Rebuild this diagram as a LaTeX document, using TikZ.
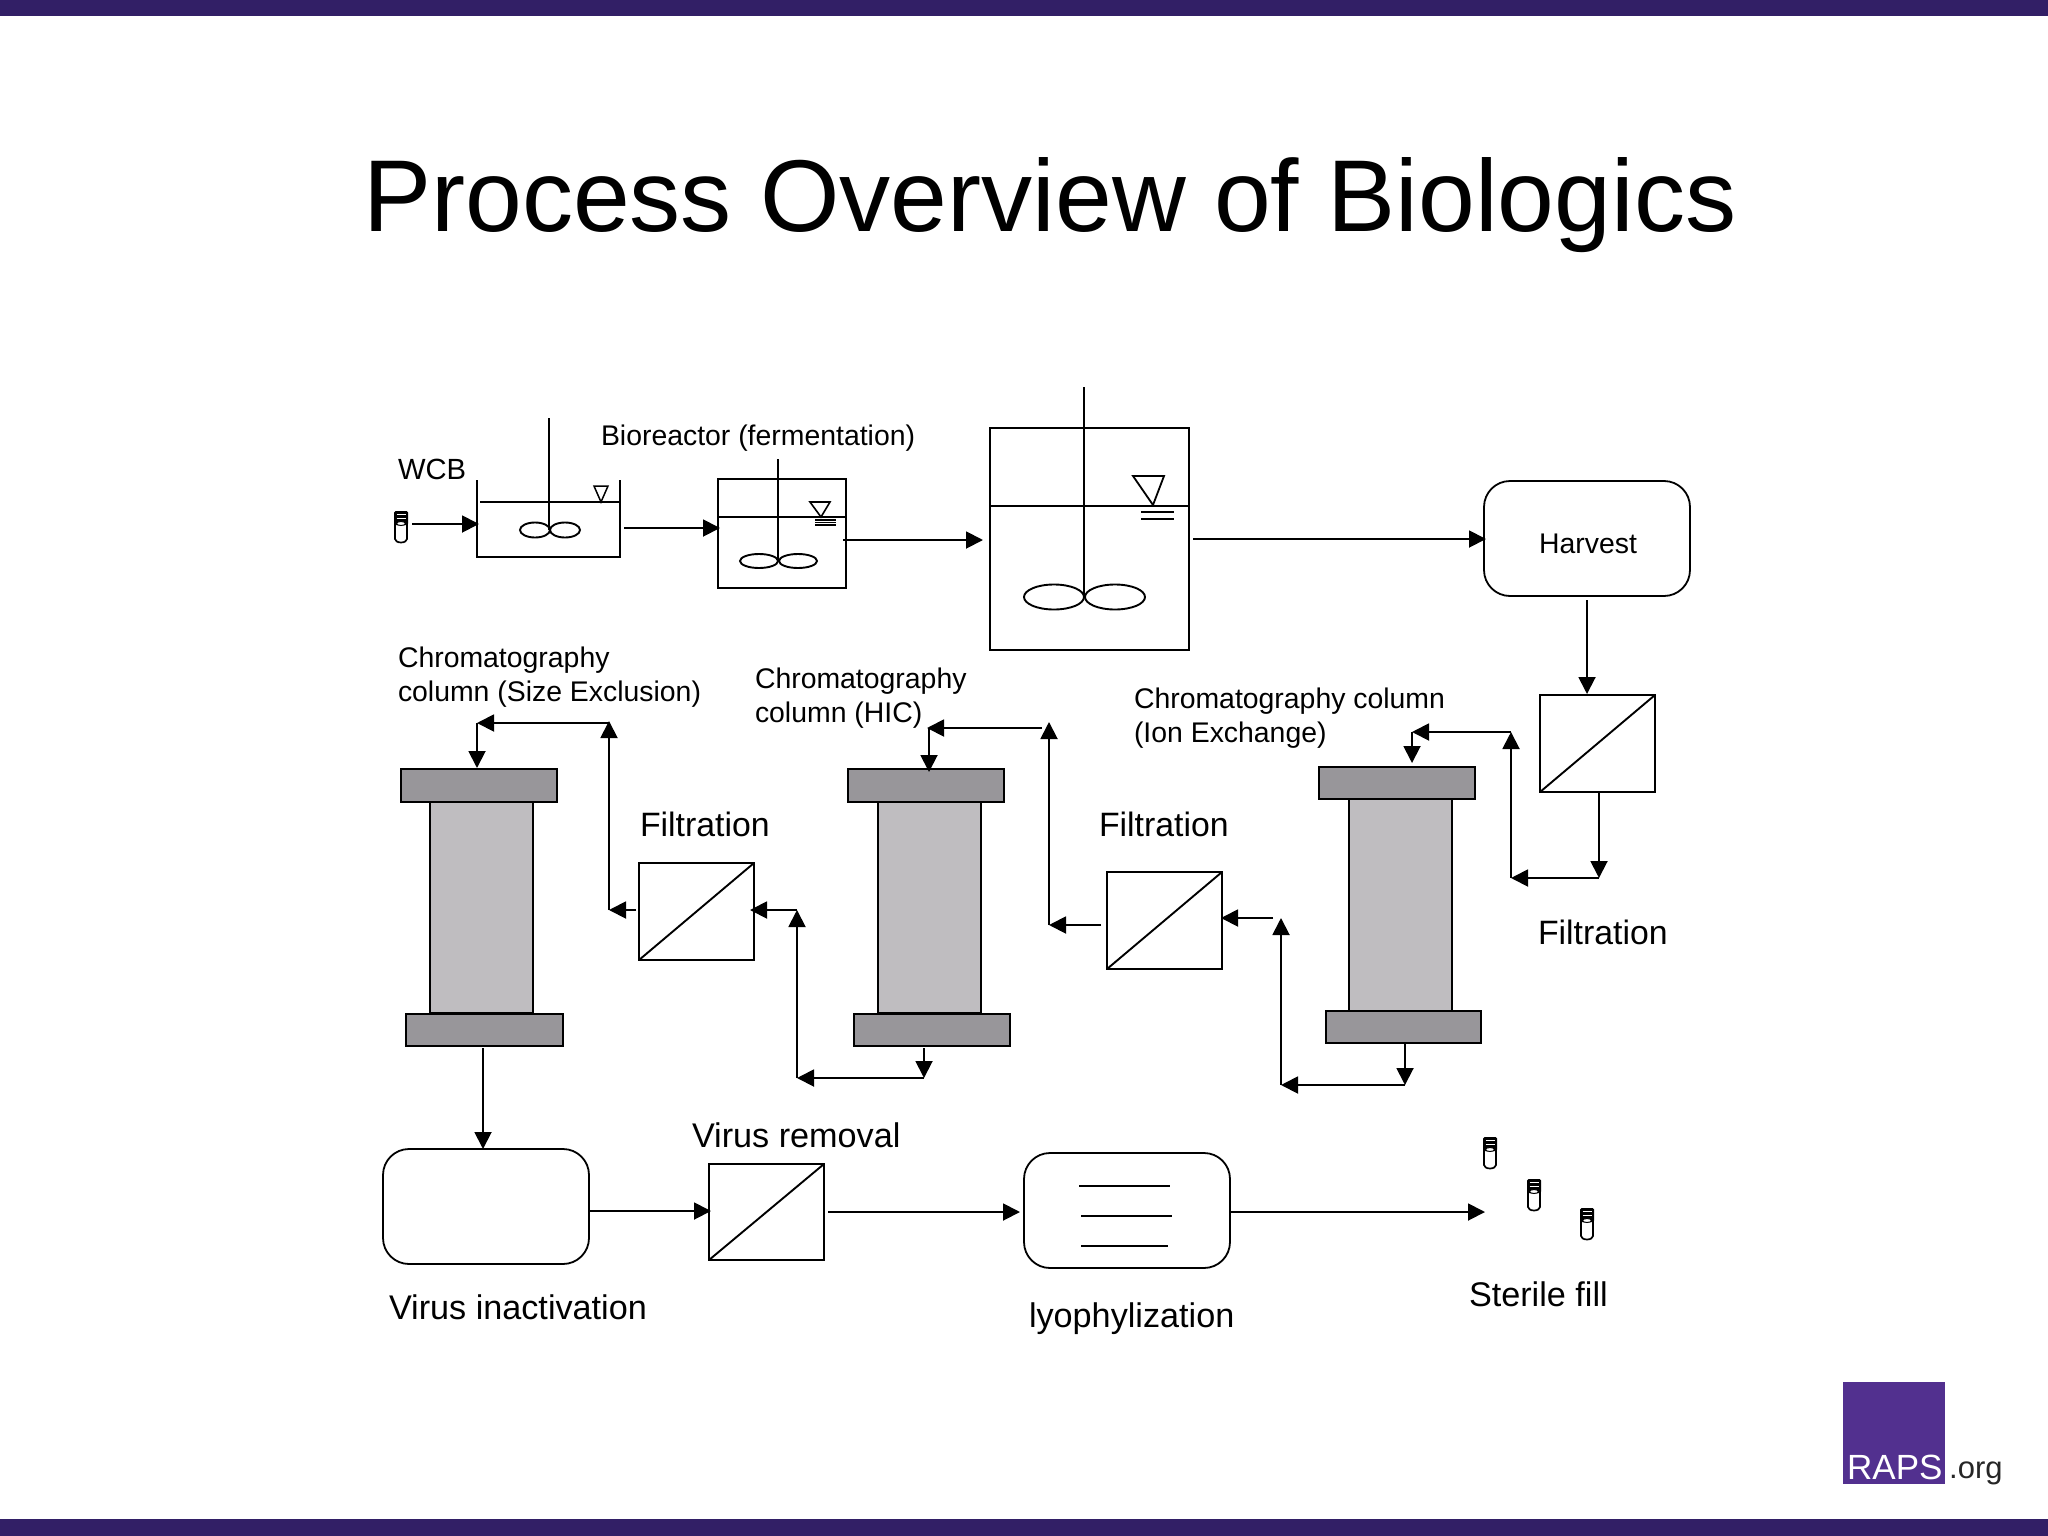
\documentclass[tikz,border=0pt]{standalone}
\usepackage{fontspec}
\setmainfont{Liberation Sans}
\usetikzlibrary{arrows.meta}
\definecolor{barpurple}{HTML}{321F66}
\definecolor{logopurple}{HTML}{52308F}
\definecolor{capgray}{HTML}{98969A}
\definecolor{bodygray}{HTML}{BFBDC0}
\tikzset{
  box/.style={draw,line width=2pt,inner sep=0pt,outer sep=0pt},
  ghost/.style={box,draw=none},
  rbox/.style={box,line width=1.8pt,rounded corners=26pt},
  capbox/.style={box,fill=capgray},
  bodybox/.style={box,fill=bodygray},
  flow/.style={line width=1.9pt,-{Triangle[length=17pt,width=17pt]}},
  ln/.style={line width=1.9pt},
  lab/.style={anchor=base west,inner sep=0pt,outer sep=0pt,font=\fontsize{28.4}{34}\selectfont},
  big/.style={anchor=base west,inner sep=0pt,outer sep=0pt,font=\fontsize{33.8}{40}\selectfont},
  bigb/.style={big,font=\fontsize{34.2}{40}\selectfont},
}
\newcommand{\boxn}[6][]{\node[box,#1,minimum width={(#5-#3)*1pt},minimum height={(#6-#4)*1pt}] (#2) at ({(#3+#5)/2},{(#4+#6)/2}) {};}
\newcommand{\vialn}[3]{%
  \node[ghost,minimum width=14pt,minimum height=32pt] (#1) at ({#2+7},{#3+16}) {};
  \begin{scope}[shift={(#2,#3)}]
    \draw[line width=1.7pt] (1,8) -- (1,28) arc[start angle=180,end angle=0,x radius=6,y radius=3.5] -- (13,8);
    \fill[black,rounded corners=1.5pt] (0,0) rectangle (14,14);
    \draw[white,line width=.8pt] (2.5,3.5) -- (11.5,3.5);
    \draw[white,line width=.8pt] (2.5,7.5) -- (11.5,7.5);
    \draw[fill=white,line width=1pt] (7,12.5) ellipse [x radius=4.5,y radius=2];
  \end{scope}}
\newcommand{\impel}[5]{%
  \draw[ln] (#1,#3) ellipse [x radius=#4,y radius=#5];
  \draw[ln] (#2,#3) ellipse [x radius=#4,y radius=#5];}
\begin{document}
\begin{tikzpicture}[x=1pt,y=-1pt]
\useasboundingbox (0,0) rectangle (2048,1536);
\fill[white] (0,0) rectangle (2048,1536);
\fill[barpurple] (0,0) rectangle (2048,16);
\fill[barpurple] (0,1519) rectangle (2048,1536);

\node[anchor=base west,inner sep=0pt,font=\fontsize{102.1}{120}\selectfont] (title) at (363,231) {Process Overview of Biologics};

% vessels
\node[ghost,minimum width=143pt,minimum height=77pt] (v1) at (548.5,518.5) {};
\draw[ln] (v1.north west) -- (v1.south west) -- (v1.south east) -- (v1.north east);
\draw[ln] (480,502) -- (620,502);
\draw[ln] (549,418) -- (549,530);
\impel{535}{565}{530}{15}{7.5}
\draw[line width=1.5pt] (594,486) -- (608,486) -- (601,502) -- cycle;

\boxn{v2}{718}{479}{846}{588}
\draw[ln] (718,517) -- (846,517);
\draw[ln] (778,459) -- (778,562);
\impel{759}{798}{561}{19}{7}
\draw[line width=1.6pt] (810,502) -- (830,502) -- (821,517) -- cycle;
\draw[line width=1.3pt] (815,520) -- (836,520) (815,522.5) -- (836,522.5) (815,525) -- (836,525);

\boxn{v3}{990}{428}{1189}{650}
\draw[ln] (990,506) -- (1189,506);
\draw[ln] (1084,387) -- (1084,597);
\impel{1054}{1115}{597}{30}{12.5}
\draw[line width=1.8pt] (1133,476) -- (1164,476) -- (1153,505) -- cycle;
\draw[ln] (1141,512) -- (1174,512) (1141,519) -- (1174,519);

\boxn[rbox]{harvest}{1484}{481}{1690}{596}
\node[lab,anchor=center] (tharvest) at ([shift={(1,5)}]harvest.center) {Harvest};

% vials
\vialn{vial0}{394}{511}
\vialn{vial1}{1483}{1137}
\vialn{vial2}{1527}{1179}
\vialn{vial3}{1580}{1208}

% filters
\boxn{f0}{1540}{695}{1655}{792}
\boxn{f1}{639}{863}{754}{960}
\boxn{f2}{1107}{872}{1222}{969}
\boxn{f3}{709}{1164}{824}{1260}
\foreach \f in {f0,f1,f2,f3} \draw[ln] (\f.south west) -- (\f.north east);

% columns
\boxn[bodybox]{c1m}{430}{802}{533}{1013}
\boxn[capbox]{c1t}{400.5}{769}{557}{802}
\boxn[capbox]{c1b}{406}{1014}{563}{1046}
\boxn[bodybox]{c2m}{878}{802}{981}{1013}
\boxn[capbox]{c2t}{848}{769}{1004}{802}
\boxn[capbox]{c2b}{854}{1014}{1010}{1046}
\boxn[bodybox]{c3m}{1349}{799}{1452}{1011}
\boxn[capbox]{c3t}{1319}{767}{1475}{799}
\boxn[capbox]{c3b}{1326}{1011}{1481}{1043}

% bottom row
\boxn[rbox]{vi}{383}{1149}{589}{1264}
\boxn[rbox]{lyo}{1024}{1153}{1230}{1268}
\draw[ln] (1079,1186) -- (1170,1186);
\draw[ln] (1081,1216) -- (1172,1216);
\draw[ln] (1081,1246) -- (1168,1246);

% elbow coordinates
\coordinate (e0a) at (1599,878);
\coordinate (e0b) at (1511,878);
\coordinate (e0c) at (1511,732);
\coordinate (e0e) at (1412,732);
\coordinate (e1a) at (1405,1085);
\coordinate (e1b) at (1281,1085);
\coordinate (e1c) at (1281,918);
\coordinate (e1d) at (1273,918);
\coordinate (e2a) at (1049,925);
\coordinate (e2b) at (1049,722);
\coordinate (e2c) at (1042,728);
\coordinate (e2d) at (927,728);
\coordinate (e2e) at (929,728);
\coordinate (e3a) at (924,1078);
\coordinate (e3c) at (797,1078);
\coordinate (e3d) at (797,910);
\coordinate (e4a) at (609,910);
\coordinate (e4b) at (609,721);
\coordinate (e4d) at (609,723);
\coordinate (e4c) at (477,723);
\coordinate (sf) at (1485,1212);

% connectors
\draw[flow] ([shift={(4,-3)}]vial0.east) -- ([shift={(2,5.5)}]v1.west);
\draw[flow] ([shift={(4,9.5)}]v1.east) -- ([shift={(2,-5.5)}]v2.west);
\draw[flow] ([shift={(-3,6.5)}]v2.east) -- ([shift={(-7,1)}]v3.west);
\draw[flow] ([shift={(4,0)}]v3.east) -- ([shift={(2,0.5)}]harvest.west);
\draw[flow] ([shift={(0,4)}]harvest.south) -- ([shift={(-10.5,-1)}]f0.north);
\draw[flow] ([shift={(1.5,1)}]f0.south) -- (e0a);
\draw[flow] (e0a) -- (e0b);
\draw[flow] (e0b) -- (e0c);
\draw[flow] (e0c) -- (e0e);
\draw[flow] (e0e) -- ([shift={(15,-4)}]c3t.north);
\draw[flow] ([shift={(1.5,1)}]c3b.south) -- (e1a);
\draw[flow] (e1a) -- (e1b);
\draw[flow] (e1b) -- (e1c);
\draw[flow] (e1d) -- ([shift={(-1,-2.5)}]f2.east);
\draw[flow] ([shift={(-6,4.5)}]f2.west) -- (e2a);
\draw[flow] (e2a) -- (e2b);
\draw[flow] (e2c) -- (e2d);
\draw[flow] (e2e) -- ([shift={(3,3)}]c2t.north);
\draw[flow] ([shift={(-8,2)}]c2b.south) -- (e3a);
\draw[flow] (e3a) -- (e3c);
\draw[flow] (e3c) -- (e3d);
\draw[flow] (e3d) -- ([shift={(-4,-1.5)}]f1.east);
\draw[flow] ([shift={(-3,-1.5)}]f1.west) -- (e4a);
\draw[flow] (e4a) -- (e4b);
\draw[flow] (e4d) -- (e4c);
\draw[flow] (e4c) -- ([shift={(-1.75,-1)}]c1t.north);
\draw[flow] ([shift={(-1.5,2)}]c1b.south) -- ([shift={(-3,0)}]vi.north);
\draw[flow] ([shift={(1,4.5)}]vi.east) -- ([shift={(2,-1)}]f3.west);
\draw[flow] ([shift={(4,0)}]f3.east) -- ([shift={(-4,1.5)}]lyo.west);
\draw[flow] ([shift={(0,1.5)}]lyo.east) -- (sf);

% labels
\node[lab,font=\fontsize{29.2}{34}\selectfont] (twcb) at (398,479) {WCB};
\node[lab] (tbio) at (601,445) {Bioreactor (fermentation)};
\node[lab] (tse1) at (398,667) {Chromatography};
\node[lab] (tse2) at (398,701) {column (Size Exclusion)};
\node[lab] (thic1) at (755,688) {Chromatography};
\node[lab] (thic2) at (755,722) {column (HIC)};
\node[lab] (tie1) at (1134,708) {Chromatography column};
\node[lab] (tie2) at (1134,742) {(Ion Exchange)};
\node[big] (tf1) at (640,836) {Filtration};
\node[big] (tf2) at (1099,836) {Filtration};
\node[big] (tf0) at (1538,944) {Filtration};
\node[bigb] (tvr) at (692,1147) {Virus removal};
\node[bigb] (tvi) at (389,1319) {Virus inactivation};
\node[bigb] (tly) at (1029,1327) {lyophylization};
\node[bigb] (tsf) at (1469,1306) {Sterile fill};

% logo
\fill[logopurple] (1843,1382) rectangle (1945,1484);
\node[anchor=base west,inner sep=0pt,text=white,font=\fontsize{35}{40}\selectfont] (traps) at (1847,1479) {RAPS};
\node[anchor=base west,inner sep=0pt,text=black!85,font=\fontsize{31}{36}\selectfont] (torg) at (1949,1478) {.org};
\end{tikzpicture}
\end{document}
